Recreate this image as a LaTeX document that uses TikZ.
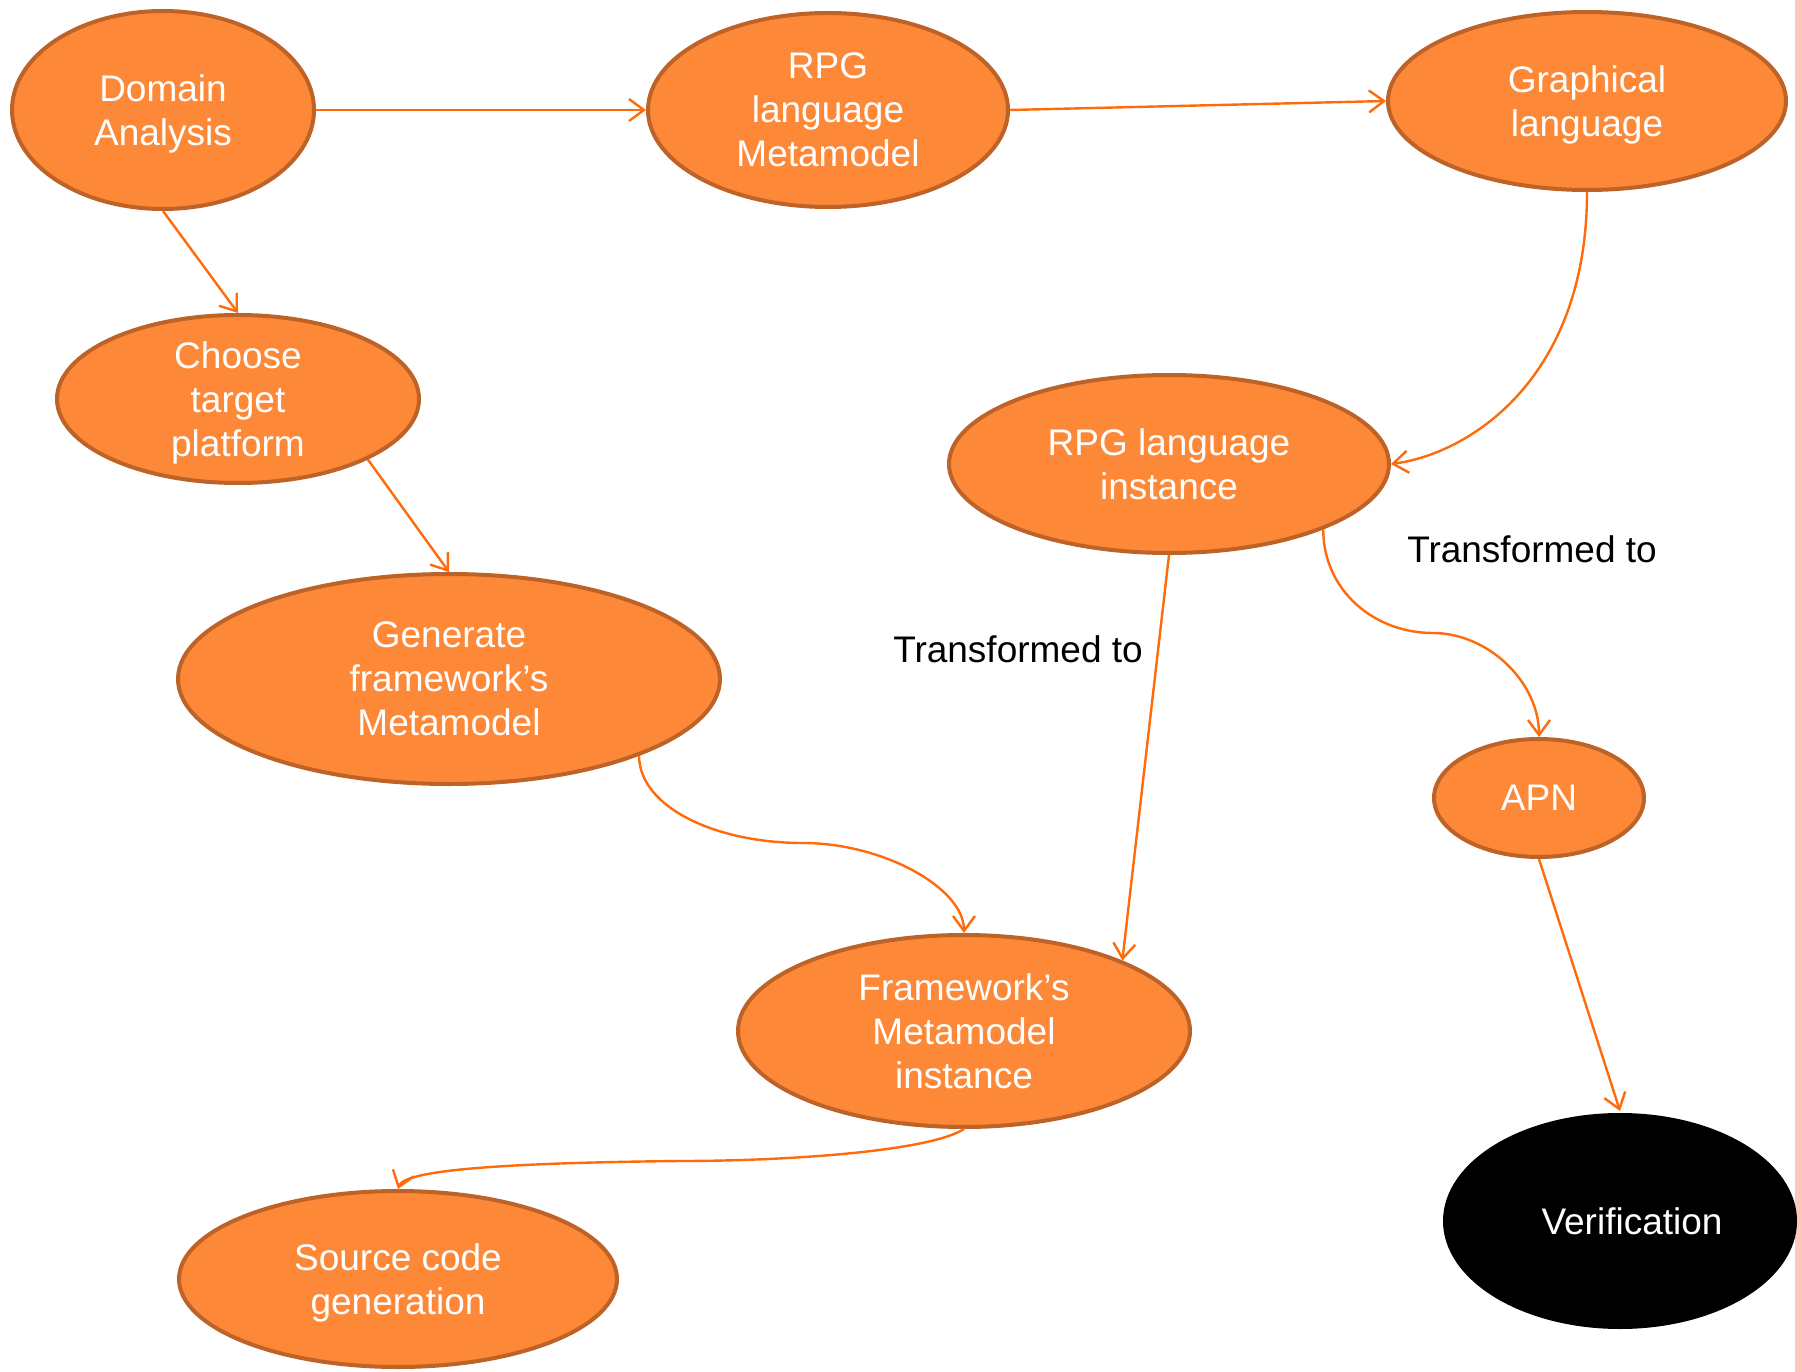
\documentclass[tikz,border=0pt]{standalone}
\usepackage{fontspec}
\setmainfont{Liberation Sans}
\usetikzlibrary{shapes.geometric,arrows.meta}
\definecolor{nodefill}{HTML}{FD8838}
\definecolor{nodeedge}{HTML}{BD6328}
\definecolor{wire}{HTML}{FF6A0A}
\definecolor{strip}{HTML}{FCC8B8}

\begin{document}
\begin{tikzpicture}[x=1pt,y=-1pt,
  stage/.style={ellipse, draw=nodeedge, line width=4pt, fill=nodefill,
    text=white, align=center, inner sep=0pt, text depth=0pt,
    font=\fontsize{37}{44}\selectfont},
  conn/.style={draw=wire, line width=2.4pt,
    -{Straight Barb[length=15pt,width=22pt]}},
  note/.style={font=\fontsize{37}{44}\selectfont, text=black}]

\useasboundingbox (0,0) rectangle (1802,1372);
\fill[strip] (1795,0) rectangle (1802,1372);

% process stages
\node[stage, minimum width=302pt, minimum height=198pt] (dom)  at (163,110)  {Domain\\Analysis};
\node[stage, minimum width=360pt, minimum height=194pt] (rpgm) at (828,110)  {RPG\\language\\Metamodel};
\node[stage, minimum width=398pt, minimum height=178pt] (gra)  at (1587,101) {Graphical\\language};
\node[stage, minimum width=362pt, minimum height=168pt] (cho)  at (238,399)  {Choose\\target\\platform};
\node[stage, minimum width=440pt, minimum height=178pt] (rpgi) at (1169,464) {RPG language\\instance};
\node[stage, minimum width=542pt, minimum height=210pt] (gen)  at (449,679)  {Generate\\framework’s\\Metamodel};
\node[stage, minimum width=210pt, minimum height=118pt] (apn)  at (1539,798) {APN};
\node[stage, minimum width=452pt, minimum height=192pt] (fmi)  at (964,1031) {Framework’s\\Metamodel\\instance};
\node[stage, minimum width=438pt, minimum height=176pt] (src)  at (398,1279) {Source code\\generation};
\node[stage, draw=none, fill=black, minimum width=354pt, minimum height=216pt] (ver) at (1620,1221) {\hspace*{24pt}Verification};

% labels
\node[note] (t1) at (1532,549) {Transformed to};
\node[note] (t2) at (1018,649) {Transformed to};

% bends of the curved connectors
\coordinate (k1) at (1433,633);
\coordinate (k2) at (803,843);
\coordinate (k3) at (680,1161);

% connectors
\draw[conn] (dom.east) -- (rpgm.west);
\draw[conn] (rpgm.east) -- (gra.west);
\draw[conn] (dom.south) -- (cho.north);
\draw[conn] (cho.-25) -- (gen.north);
\draw[conn] (gra.south) .. controls +(0,187) and +(78,-10) .. (rpgi.east);
\draw[conn] (rpgi.-23) .. controls +(0,60) and +(-60,0) .. (k1)
            .. controls +(55,0) and +(0,-55) .. (apn.north);
\draw[conn] (rpgi.south) -- (fmi.24);
\draw[conn] (gen.-22) .. controls +(0,50) and +(-90,0) .. (k2)
            .. controls +(80,0) and +(0,-45) .. (fmi.north);
\draw[conn] (fmi.south) .. controls +(-34,22) and +(110,0) .. (k3)
            .. controls +(-190,2) and +(6,-18) .. (src.north);
\draw[conn] (apn.south) -- (ver.north);
\end{tikzpicture}
\end{document}
